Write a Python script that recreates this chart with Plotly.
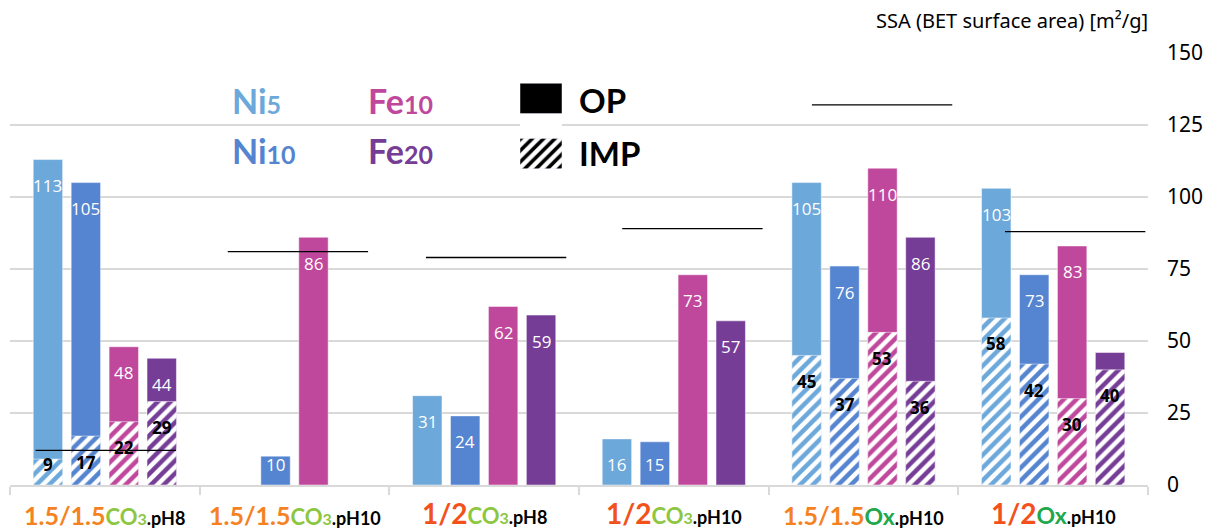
import plotly.graph_objects as go

# ---- data -------------------------------------------------------------
ratios = ["1.5/1.5", "1.5/1.5", "1/2", "1/2", "1.5/1.5", "1/2"]
anions = ["CO3", "CO3", "CO3", "CO3", "Ox", "Ox"]
ph_values = ["pH8", "pH10", "pH8", "pH10", "pH10", "pH10"]

series_names = ["Ni5", "Ni10", "Fe10", "Fe20"]

# SSA of one-pot (OP) catalysts, m2/g
ni5_op = [113, None, 31, 16, 105, 103]
ni10_op = [105, 10, 24, 15, 76, 73]
fe10_op = [48, 86, 62, 73, 110, 83]
fe20_op = [44, None, 59, 57, 86, 46]

# SSA of impregnated (IMP) catalysts, m2/g
ni5_imp = [9, None, None, None, 45, 58]
ni10_imp = [17, None, None, None, 37, 42]
fe10_imp = [22, None, None, None, 53, 30]
fe20_imp = [29, None, None, None, 36, 40]

# SSA of the bare support for each synthesis route
support_ssa = [12, 81, 79, 89, 132, 88]

# ---- style ------------------------------------------------------------
colors = {"Ni5": "#6CA8DA", "Ni10": "#5584D0", "Fe10": "#C0489C", "Fe20": "#763D97"}
ratio_colors = {"1.5/1.5": "#F5821F", "1/2": "#F2511B"}
anion_colors = {"CO3": "#8DC641", "Ox": "#21A84B"}

op_data = [ni5_op, ni10_op, fe10_op, fe20_op]
imp_data = [ni5_imp, ni10_imp, fe10_imp, fe20_imp]
hidden_op_labels = {(3, 5)}  # (series, group) with no value printed

SLOT = 0.2
BAR_W = 0.155
LINE_HALF = 0.37
line_shift = [0.005, 0.018, 0.063, 0.098, 0.098, 0.116]
LABEL_FLOOR = 16
LABEL_SHIFT = -26

L, R, T, B = 10, 64, 53, 45
W, H = 1212, 530
PW, PH = W - L - R, H - T - B


def px(x):
    return (x - L) / PW


def py(y):
    return (H - B - y) / PH


n_groups = len(ratios)
fig = go.Figure()
annotations = []

for j, name in enumerate(series_names):
    xs = [i + (j - 1.5) * SLOT for i in range(n_groups)]
    fig.add_trace(go.Bar(
        x=xs, y=op_data[j], width=BAR_W, name=name + " OP",
        marker=dict(color=colors[name], line=dict(color="rgba(255,255,255,0.6)", width=0.8)),
        showlegend=False, hoverinfo="skip",
    ))
    fig.add_trace(go.Bar(
        x=xs, y=imp_data[j], width=BAR_W, name=name + " IMP",
        marker=dict(
            color=colors[name],
            line=dict(color="rgba(255,255,255,0.6)", width=0.8),
            pattern=dict(shape="/", fgcolor=colors[name], bgcolor="white",
                         fillmode="replace", size=9, solidity=0.5),
        ),
        showlegend=False, hoverinfo="skip",
    ))
    for i in range(n_groups):
        v = op_data[j][i]
        if v is not None and (j, i) not in hidden_op_labels:
            annotations.append(dict(
                x=xs[i], y=max(v, LABEL_FLOOR), xref="x", yref="y", text=str(v),
                showarrow=False, yshift=LABEL_SHIFT,
                font=dict(family="Open Sans", size=17, color="white"),
            ))
        w = imp_data[j][i]
        if w is not None:
            annotations.append(dict(
                x=xs[i], y=max(w, LABEL_FLOOR), xref="x", yref="y", text="<b>%d</b>" % w,
                showarrow=False, yshift=LABEL_SHIFT,
                font=dict(family="Open Sans", size=17, color="black"),
            ))

# support reference lines
for i, s in enumerate(support_ssa):
    c = i + line_shift[i]
    fig.add_trace(go.Scatter(
        x=[c - LINE_HALF, c + LINE_HALF], y=[s, s], mode="lines",
        line=dict(color="black", width=1.3), showlegend=False, hoverinfo="skip",
    ))

# legend glyphs (solid = OP, hatched = IMP) in a small inset axis
fig.add_trace(go.Bar(
    x=[1, 1], y=[1, 0], orientation="h", width=0.55,
    marker=dict(color=["black", "black"],
                pattern=dict(shape=["", "/"], fgcolor="black", bgcolor="white",
                             fillmode="replace", size=8, solidity=0.45)),
    xaxis="x2", yaxis="y2", showlegend=False, hoverinfo="skip",
))

# category labels
for i in range(n_groups):
    big = 25 if ratios[i] == "1.5/1.5" else 28
    txt = (
        '<span style="color:%s;font-size:%dpx">%s</span>' % (ratio_colors[ratios[i]], big, ratios[i])
    )
    if anions[i] == "CO3":
        txt += ('<span style="color:%s;font-size:22px">CO</span>'
                '<span style="color:%s;font-size:16px">3</span>') % (anion_colors["CO3"], anion_colors["CO3"])
    else:
        txt += '<span style="color:%s;font-size:23px">Ox</span>' % anion_colors["Ox"]
    txt += '<span style="color:black;font-size:18px">.%s</span>' % ph_values[i]
    annotations.append(dict(
        x=i, y=py(532), xref="x", yref="paper", text="<b>" + txt + "</b>",
        showarrow=False, yanchor="bottom", xanchor="center",
        font=dict(family="Lato", size=20, color="black"),
    ))

# metal legend texts
legend_items = [("Ni", "5", 230, 100, colors["Ni5"]), ("Ni", "10", 230, 150, colors["Ni10"]),
                ("Fe", "10", 366, 100, colors["Fe10"]), ("Fe", "20", 366, 150, colors["Fe20"])]
for base, sub, lx, ly, col in legend_items:
    annotations.append(dict(
        x=px(lx), y=py(ly), xref="paper", yref="paper", xanchor="left", yanchor="middle",
        text='<b>%s<span style="font-size:25px">%s</span></b>' % (base, sub),
        showarrow=False, font=dict(family="Lato", size=34, color=col),
    ))
for label, ly in [("OP", 100), ("IMP", 153)]:
    annotations.append(dict(
        x=px(577), y=py(ly), xref="paper", yref="paper", xanchor="left", yanchor="middle",
        text="<b>%s</b>" % label, showarrow=False,
        font=dict(family="Lato", size=33, color="black"),
    ))

# axis title
annotations.append(dict(
    x=px(1150), y=py(20), xref="paper", yref="paper", xanchor="right", yanchor="middle",
    text="SSA (BET surface area) [m²/g]", showarrow=False,
    font=dict(family="Noto Sans", size=20, color="black"),
))

fig.update_layout(
    width=W, height=H, margin=dict(l=L, r=R, t=T, b=B),
    paper_bgcolor="white", plot_bgcolor="white",
    barmode="overlay", showlegend=False,
    annotations=annotations,
    xaxis=dict(
        range=[-0.5, n_groups - 0.5], tickvals=[k - 0.5 for k in range(n_groups + 1)],
        showticklabels=False, ticks="outside", ticklen=8, tickwidth=2, tickcolor="#D9D9D9",
        showline=True, linecolor="#D9D9D9", linewidth=2, showgrid=False, zeroline=False,
    ),
    yaxis=dict(
        range=[0, 150], tickvals=[0, 25, 50, 75, 100, 125, 150], side="right",
        showgrid=True, gridcolor="#D9D9D9", gridwidth=2, zeroline=False, ticks="",
        ticklabelstandoff=18,
        tickfont=dict(family="Noto Sans", size=21, color="black"),
    ),
    xaxis2=dict(domain=[px(520), px(562)], range=[0, 1], visible=False, fixedrange=True),
    yaxis2=dict(domain=[py(169), py(83)], range=[-0.28, 1.28], visible=False, fixedrange=True,
                anchor="x2"),
)
fig.update_layout(xaxis2_anchor="y2")

fig.write_html("out.html")
